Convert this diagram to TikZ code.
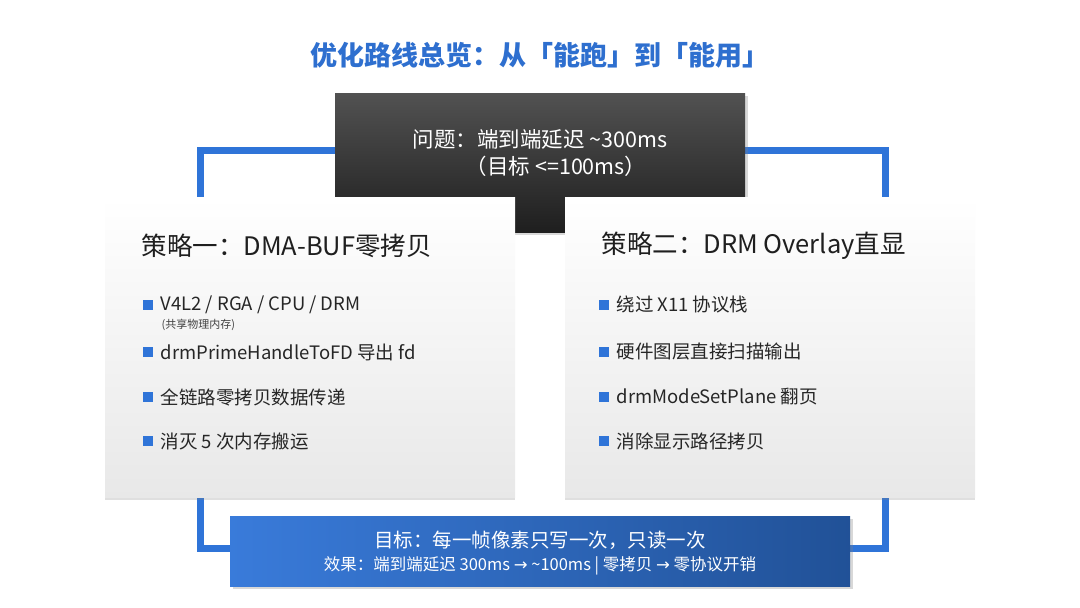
\documentclass[tikz,border=0pt]{standalone}
\usepackage{fontspec}
\setmainfont{Noto Sans CJK SC}
\usetikzlibrary{shadows,calc}
\definecolor{bl}{HTML}{2F74D8}
\definecolor{tb}{HTML}{2E6FCF}
\begin{document}
\begin{tikzpicture}[x=1pt,y=-1pt,
  card/.style={draw=none,top color=white,bottom color=black!9,drop shadow={shadow xshift=0pt,shadow yshift=-3pt,opacity=0.25}},
  conn/.style={draw=bl,line width=7pt},
  bul/.style={anchor=west,font=\fontsize{18.5}{22}\selectfont,text=black!85},
  sq/.style={fill=bl,minimum size=10pt,inner sep=0pt}]
\useasboundingbox (0,0) rectangle (1080,608);
\fill[white] (0,0) rectangle (1080,608);
\node[font=\fontsize{27}{30}\selectfont\bfseries,text=tb] (title) at (540,55) {优化路线总览：从「能跑」到「能用」};
% connectors
\coordinate (l1) at (200,150); \coordinate (r1) at (885,150);
\coordinate (l2) at (200,548); \coordinate (r2) at (885,548);
\draw[conn] (338,150) -- (l1) -- (200,200);
\draw[conn] (742,150) -- (r1) -- (885,200);
\draw[conn] (200,495) -- (l2) -- (232,548);
\draw[conn] (885,495) -- (r2) -- (848,548);
% dark box
\path[top color=black!68,bottom color=black!88,drop shadow={opacity=0.3}] (335,93) rectangle (745,232);
\node[text=white,font=\fontsize{21.5}{27}\selectfont,align=center] (prob) at (540,153) {问题：端到端延迟 \char"007E 300ms\\\hspace*{1.5em}（目标 <=100ms）};
% cards
\path[card] (105,197) rectangle (515,497);
\path[card] (565,197) rectangle (975,497);
\node[anchor=west,font=\fontsize{25.5}{28}\selectfont,text=black!88] (h1) at (138,246) {策略一：DMA-BUF零拷贝};
\node[anchor=west,font=\fontsize{25.5}{28}\selectfont,text=black!88] (h2) at (598,246) {策略二：DRM Overlay直显};
\foreach \y/\t [count=\i] in {305/{V4L2 / RGA / CPU / DRM},352/drmPrimeHandleToFD 导出 fd,397/全链路零拷贝数据传递,441/消灭 5 次内存搬运}{
  \node[sq] (ls\i) at (148,\y) {};
  \node[bul] (lt\i) at (157,\y) {\t};
}
\node[anchor=west,font=\fontsize{11}{13}\selectfont,text=black!75] (sub) at (158,325) {(共享物理内存)};
\foreach \y/\t [count=\i] in {305/绕过 X11 协议栈,352/硬件图层直接扫描输出,397/drmModeSetPlane 翻页,441/消除显示路径拷贝}{
  \node[sq] (rs\i) at (604,\y) {};
  \node[bul] (rt\i) at (613,\y) {\t};
}
% bottom box
\path[left color=bl!95!white,right color=bl!70!black,drop shadow={opacity=0.3}] (230,516) rectangle (850,586);
\node[text=white,font=\fontsize{19.5}{22}\selectfont] (goal) at (540,540) {目标：每一帧像素只写一次，只读一次};
\node[text=white,font=\fontsize{16.5}{18}\selectfont] (eff) at (540,566) {效果：端到端延迟 300ms {\fontspec{DejaVu Sans}→} \char"007E 100ms | 零拷贝 {\fontspec{DejaVu Sans}→} 零协议开销};
\end{tikzpicture}
\end{document}
